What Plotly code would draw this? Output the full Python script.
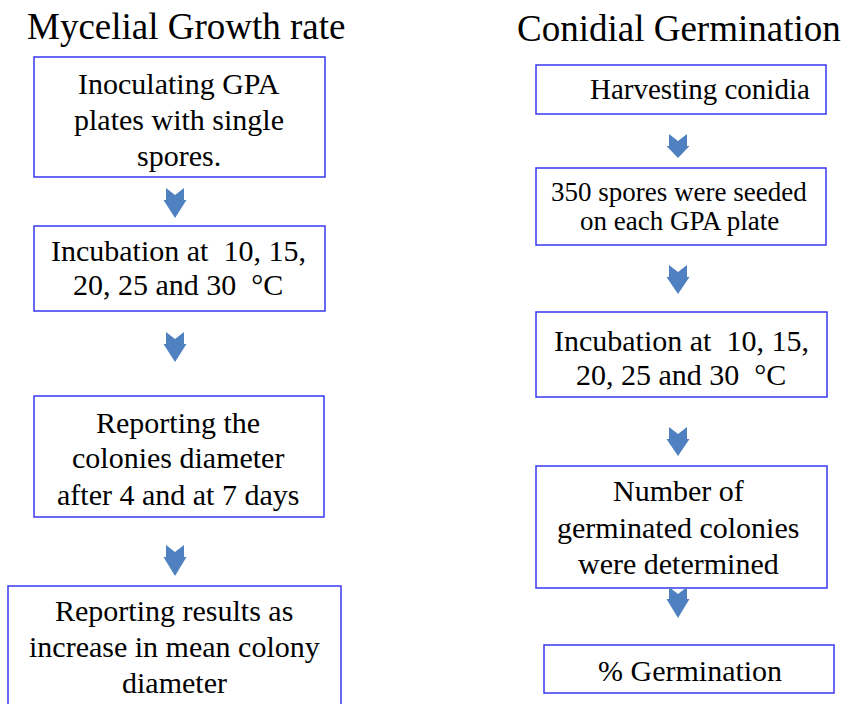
import plotly.graph_objects as go

# flowchart content
titles = ["Mycelial Growth rate", "Conidial Germination"]

left_steps = [
    ["Inoculating GPA", "plates with single", "spores."],
    ["Incubation at\u00a0 10, 15,", "20, 25 and 30\u00a0 °C"],
    ["Reporting the", "colonies diameter", "after 4 and at 7 days"],
    ["Reporting results as", "increase in mean colony", "diameter"],
]

right_steps = [
    ["Harvesting conidia"],
    ["350 spores were seeded", "on each GPA plate"],
    ["Incubation at\u00a0 10, 15,", "20, 25 and 30\u00a0 °C"],
    ["Number of", "germinated colonies", "were determined"],
    ["% Germination"],
]

# layout (pixel coordinates, y downwards)
W, H = 849, 704
title_pos = [(186, 26), (679, 28)]
title_size = 37

left_boxes = [(34, 57, 325, 177), (34, 226, 325, 311), (34, 396, 324, 517), (8, 586, 341, 712)]
left_text_x = [179, 178, 178, 174]
left_line_y = [[83, 119, 155], [250, 284], [422, 457, 494], [610, 646, 682]]
left_size = [30, 30, 30, 30]
left_arrows = [(175, 188, 218), (175, 332, 362), (175, 545, 576)]

right_boxes = [(536, 65, 826, 114), (536, 168, 826, 245), (536, 312, 827, 397),
               (536, 466, 827, 588), (544, 645, 834, 693)]
right_text_x = [700, 679, 681, 678, 690]
right_line_y = [[89], [192, 221], [340, 374], [490, 527, 563], [670]]
right_size = [29, 27, 30, 30, 30]
right_arrows = [(678, 134, 158), (678, 265, 294), (678, 427, 456), (678, 587, 618)]

box_color = "#3838f0"
arrow_color = "#4f80c0"
serif = "Liberation Serif"

fig = go.Figure()


def arrow_path(cx, top, bottom):
    sw, hw, notch, neck = 9, 11.5, 7, 12
    pts = [
        (cx - sw, top), (cx, top + notch), (cx + sw, top), (cx + sw, top + neck),
        (cx + hw, top + neck), (cx, bottom), (cx - hw, top + neck), (cx - sw, top + neck),
    ]
    return "M " + " L ".join(f"{x},{y}" for x, y in pts) + " Z"


for boxes, texts, xs, ys, sizes, arrows in [
    (left_boxes, left_steps, left_text_x, left_line_y, left_size, left_arrows),
    (right_boxes, right_steps, right_text_x, right_line_y, right_size, right_arrows),
]:
    for (x0, y0, x1, y1), lines, tx, tys, fs in zip(boxes, texts, xs, ys, sizes):
        fig.add_shape(type="rect", x0=x0, y0=y0, x1=x1, y1=y1,
                      line=dict(color=box_color, width=1.5), fillcolor="white", layer="below")
        for line, ty in zip(lines, tys):
            fig.add_annotation(x=tx, y=ty, text=line, showarrow=False,
                               xanchor="center", yanchor="middle",
                               font=dict(family=serif, size=fs, color="black"))
    for cx, top, bottom in arrows:
        fig.add_shape(type="path", path=arrow_path(cx, top, bottom),
                      line=dict(width=0), fillcolor=arrow_color, layer="above")

for t, (tx, ty) in zip(titles, title_pos):
    fig.add_annotation(x=tx, y=ty, text=t, showarrow=False, xanchor="center",
                       yanchor="middle", font=dict(family=serif, size=title_size, color="black"))

fig.update_xaxes(range=[0, W], visible=False, fixedrange=True)
fig.update_yaxes(range=[H, 0], visible=False, fixedrange=True)
fig.update_layout(
    width=W, height=H,
    margin=dict(l=0, r=0, t=0, b=0),
    plot_bgcolor="white", paper_bgcolor="white",
    showlegend=False,
)

# drop the default page margin so the figure sits at the window's corner
fig.write_html(
    "out.html",
    config={"displayModeBar": False},
    post_script="document.body.style.margin='0px';",
)
